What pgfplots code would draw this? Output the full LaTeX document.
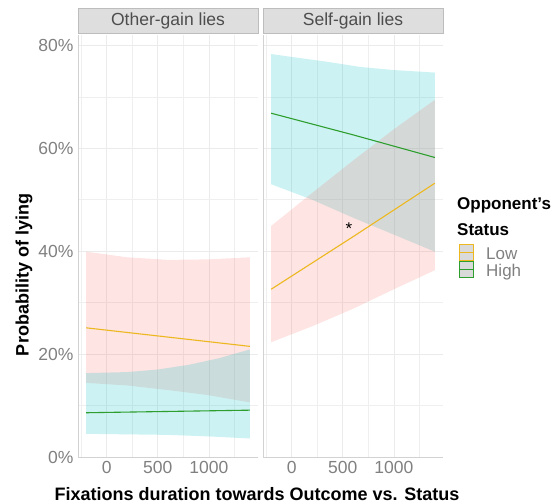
\documentclass[border=0pt]{standalone}
\usepackage{fontspec}
\setmainfont{Liberation Sans}
\usepackage{pgfplots}
\pgfplotsset{compat=1.18}
\definecolor{lowline}{HTML}{EDB81F}
\definecolor{highline}{HTML}{2E9E2E}
\definecolor{pinkfill}{HTML}{F8766D}
\definecolor{cyanfill}{HTML}{00BFC4}
\definecolor{tickgray}{HTML}{808080}
\definecolor{gridgray}{HTML}{EBEBEB}
\definecolor{stripfill}{HTML}{DEDEDE}
\definecolor{stripdraw}{HTML}{BDBDBD}
\definecolor{striptext}{HTML}{4D4D4D}
\definecolor{keyfill}{HTML}{DADADA}

\pgfplotsset{every axis title shift=0pt,
 panel/.style={
  scale only axis, width=180pt, height=422pt,
  xmin=-280, xmax=1480, ymin=0, ymax=82,
  xtick={0,500,1000}, xticklabels={0,500,1000},
  minor xtick={-250,250,750,1250},
  ytick={0,20,40,60,80}, minor ytick={10,30,50,70},
  grid=both,
  major grid style={gridgray, line width=0.7pt},
  minor grid style={gridgray!80, line width=0.5pt},
  axis x line*=bottom, axis y line*=left,
  axis line style={draw=gray!35, line width=0.9pt, -},
  major tick length=0pt, minor tick length=0pt,
  tick label style={font=\fontsize{17.5}{20}\selectfont, text=tickgray},
  /pgf/number format/assume math mode=true,
  xticklabel style={anchor=north, yshift=-1pt},
  yticklabel style={anchor=east, xshift=-1pt},
  title style={at={(0.5,1)}, anchor=south, yshift=1.5pt, fill=stripfill, draw=stripdraw, line width=0.8pt,
    minimum width=180pt, minimum height=24.5pt, inner sep=0pt,
    font=\fontsize{17.5}{20}\selectfont, text=striptext},
  clip=false,
}}

\begin{document}
\begin{tikzpicture}
\useasboundingbox (0,0) rectangle (556pt,503pt);

\begin{axis}[panel, at={(78pt,46pt)}, anchor=south west,
  title={Other-gain lies},
  yticklabels={0\%,20\%,40\%,60\%,80\%}]
\addplot[fill=pinkfill, fill opacity=0.2, draw=none] coordinates {
 (-200,39.9) (200,38.8) (600,38.3) (1000,38.4) (1400,38.8)
 (1400,10.6) (1000,12.0) (600,13.0) (200,13.9) (-200,14.4)} -- cycle;
\addplot[fill=cyanfill, fill opacity=0.2, draw=none] coordinates {
 (-200,16.3) (200,16.5) (500,17.0) (800,17.9) (1100,19.2) (1400,20.9)
 (1400,3.6) (1000,4.0) (600,4.3) (200,4.4) (-200,4.5)} -- cycle;
\addplot[lowline, line width=1.1pt] coordinates {(-200,25.1) (600,23.3) (1400,21.5)};
\addplot[highline, line width=1.1pt] coordinates {(-200,8.6) (600,8.85) (1400,9.1)};
\end{axis}

\begin{axis}[panel, at={(263pt,46pt)}, anchor=south west,
  title={Self-gain lies},
  yticklabels={}]
\addplot[fill=cyanfill, fill opacity=0.2, draw=none] coordinates {
 (-200,78.3) (13,77.7) (346,76.8) (668,75.8) (991,75.2) (1400,74.7)
 (1400,39.9) (1000,43.2) (600,46.5) (200,50.0) (-200,53.0)} -- cycle;
\addplot[fill=pinkfill, fill opacity=0.2, draw=none] coordinates {
 (-200,44.9) (200,51.3) (600,57.6) (1000,63.7) (1400,69.4)
 (1400,36.3) (1000,32.6) (600,28.8) (200,25.4) (-200,22.3)} -- cycle;
\addplot[highline, line width=1.1pt] coordinates {(-200,66.8) (600,62.6) (1400,58.2)};
\addplot[lowline, line width=1.1pt] coordinates {(-200,32.6) (600,42.8) (1400,53.2)};
\node[font=\fontsize{17}{20}\selectfont] at (axis cs:560,44.3) {*};
\end{axis}

% axis titles
\node[rotate=90, font=\bfseries\fontsize{18}{20}\selectfont] at (24pt,228pt) {Probability of lying};
\node[anchor=base, font=\bfseries\fontsize{18}{20}\selectfont] at (257pt,3pt) {Fixations duration towards Outcome vs. Status};

% legend
\node[anchor=base west, font=\bfseries\fontsize{17}{20}\selectfont, inner sep=0pt] at (457pt,293pt) {Opponent’s};
\node[anchor=base west, font=\bfseries\fontsize{17}{20}\selectfont, inner sep=0pt] at (457pt,267pt) {Status};
\fill[keyfill] (459pt,242pt) rectangle (473pt,258pt);
\draw[lowline, line width=1pt] (459pt,242pt) rectangle (473pt,258pt);
\draw[lowline, line width=1pt] (459pt,250pt) -- (473pt,250pt);
\fill[keyfill] (459pt,225pt) rectangle (473pt,241pt);
\draw[highline, line width=1pt] (459pt,225pt) rectangle (473pt,241pt);
\draw[highline, line width=1pt] (459pt,233pt) -- (473pt,233pt);
\node[anchor=base west, font=\fontsize{17}{20}\selectfont, text=tickgray, inner sep=0pt] at (486pt,243pt) {Low};
\node[anchor=base west, font=\fontsize{17}{20}\selectfont, text=tickgray, inner sep=0pt] at (486pt,226pt) {High};
\end{tikzpicture}
\end{document}
